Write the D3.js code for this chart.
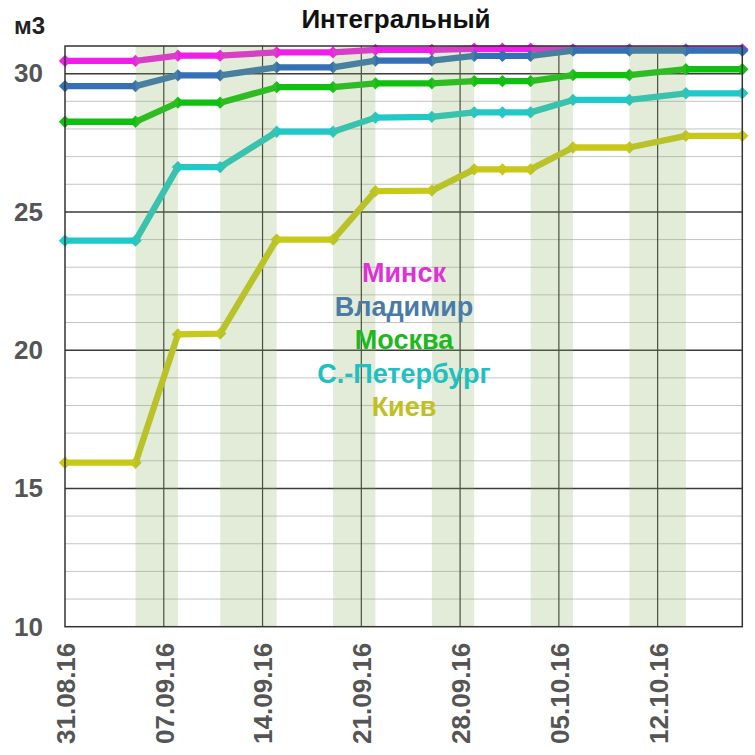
<!DOCTYPE html>
<html><head><meta charset="utf-8">
<script src="https://cdn.jsdelivr.net/npm/d3@7/dist/d3.min.js"></script>
<style>body{margin:0;background:#fff}svg{display:block}</style>
</head><body><svg id="c" width="755" height="755"></svg>
<script>
const dates = ["2016-08-31","2016-09-05","2016-09-08","2016-09-11","2016-09-15","2016-09-19","2016-09-22","2016-09-26","2016-09-29","2016-10-01","2016-10-03","2016-10-06","2016-10-10","2016-10-14","2016-10-18"];
const bands = [["2016-09-05","2016-09-08"],["2016-09-11","2016-09-15"],["2016-09-19","2016-09-22"],["2016-09-26","2016-09-29"],["2016-10-03","2016-10-06"],["2016-10-10","2016-10-14"]];
const tickDates = ["2016-08-31","2016-09-07","2016-09-14","2016-09-21","2016-09-28","2016-10-05","2016-10-12"];
const yTicks = [10,15,20,25,30];
const seriesNames = ["Минск","Владимир","Москва","С.-Петербург","Киев"];
const minsk    = [30.46,30.46,30.65,30.65,30.77,30.77,30.86,30.86,30.9,30.9,30.9,30.88,30.88,30.88,30.88];
const vladimir = [29.55,29.55,29.94,29.94,30.23,30.23,30.47,30.47,30.64,30.64,30.64,30.83,30.83,30.83,30.83];
const moskva   = [28.26,28.26,28.95,28.95,29.51,29.51,29.65,29.65,29.73,29.73,29.73,29.95,29.95,30.16,30.16];
const spb      = [23.96,23.96,26.62,26.62,27.9,27.9,28.41,28.44,28.6,28.6,28.6,29.05,29.05,29.29,29.29];
const kiev     = [15.93,15.93,20.57,20.6,24.0,24.0,25.75,25.77,26.54,26.54,26.54,27.33,27.33,27.75,27.75];
const seriesValues = [minsk, vladimir, moskva, spb, kiev];
const lineColors = ["#f01ee8","#3570b4","#10c010","#20c8c8","#c8c818"];
const textColors = ["#e030d8","#4a7aa8","#20b820","#20c0c0","#c0c020"];

const parse = d3.timeParse("%Y-%m-%d");
const fmt = d3.timeFormat("%d.%m.%y");
const svg = d3.select("#c");
const FONT = "Liberation Sans, Arial, sans-serif";
const L = 65, R = 742.3, T = 46, B = 626.7;
const x = d3.scaleTime().domain([parse("2016-08-31"), parse("2016-10-18")]).range([L, R]);
const y = d3.scaleLinear().domain([10, 31]).range([B, T]);

// gridlines
const g = svg.append("g");
g.selectAll("line.h").data(d3.range(11, 31)).join("line")
  .attr("x1", L).attr("x2", R).attr("y1", d => y(d)).attr("y2", d => y(d))
  .attr("stroke", d => d % 5 === 0 ? "#3a3a3a" : "#c4c4c4")
  .attr("stroke-width", d => d % 5 === 0 ? 1.5 : 1);
g.selectAll("line.vt").data(tickDates.slice(1)).join("line")
  .attr("x1", d => x(parse(d))).attr("x2", d => x(parse(d)))
  .attr("y1", T).attr("y2", B).attr("stroke", "#333").attr("stroke-width", 1.2);

// series
const lineGen = d3.line().x((d, i) => x(parse(dates[i]))).y(d => y(d));
seriesValues.forEach((vals, k) => {
  svg.append("path").datum(vals).attr("d", lineGen)
    .attr("fill", "none").attr("stroke", lineColors[k]).attr("stroke-width", 6.3)
    .attr("stroke-linejoin", "round");
  svg.append("g").selectAll("path").data(vals).join("path")
    .attr("transform", (d, i) => `translate(${x(parse(dates[i]))},${y(d)}) rotate(45)`)
    .attr("d", d3.symbol(d3.symbolSquare, 76))
    .attr("fill", lineColors[k]);
});

// translucent bands over the plot
svg.append("g").selectAll("rect").data(bands).join("rect")
  .attr("x", d => x(parse(d[0]))).attr("width", d => x(parse(d[1])) - x(parse(d[0])))
  .attr("y", T).attr("height", B - T)
  .attr("fill", "rgb(140,175,90)").attr("fill-opacity", 0.24);

// frame
svg.append("rect").attr("x", L).attr("y", T).attr("width", R - L).attr("height", B - T)
  .attr("fill", "none").attr("stroke", "#333").attr("stroke-width", 1.5);

// y labels
const yAxis = d3.axisLeft(y).tickValues(yTicks).tickSize(0).tickPadding(22);
const ya = svg.append("g").attr("transform", `translate(${L},0)`).call(yAxis);
ya.select(".domain").remove();
ya.selectAll("text").attr("font-family", FONT)
  .attr("font-size", 26).attr("font-weight", "bold").attr("fill", "#555");

// x labels
const xAxis = d3.axisBottom(x).tickValues(tickDates.map(parse)).tickFormat(fmt).tickSize(0);
const xa = svg.append("g").attr("transform", `translate(0,${B})`).call(xAxis);
xa.select(".domain").remove();
xa.selectAll("text").attr("font-family", FONT)
  .attr("font-size", 26).attr("font-weight", "bold").attr("fill", "#555")
  .attr("text-anchor", "end").attr("transform", "rotate(-90)")
  .attr("x", -16).attr("y", 0).attr("dy", "0.36em");

// title and unit
svg.append("text").attr("x", 396).attr("y", 28).attr("text-anchor", "middle")
  .attr("font-family", FONT).attr("font-size", 26)
  .attr("font-weight", "bold").attr("fill", "#111").text("Интегральный");
svg.append("text").attr("x", 14).attr("y", 34)
  .attr("font-family", FONT).attr("font-size", 24)
  .attr("font-weight", "bold").attr("fill", "#222").text("м3");

// legend texts
svg.append("g").selectAll("text").data(seriesNames).join("text")
  .attr("x", 404).attr("y", (d, i) => 282 + i * 33.5).attr("text-anchor", "middle")
  .attr("font-family", FONT).attr("font-size", 27)
  .attr("font-weight", "bold").attr("fill", (d, i) => textColors[i]).text(d => d);
</script></body></html>
